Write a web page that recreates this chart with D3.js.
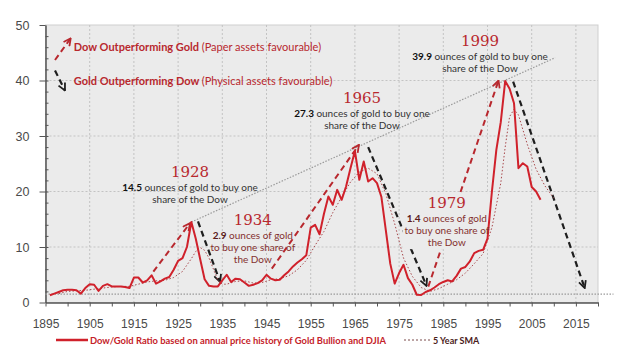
<!DOCTYPE html>
<html>
<head>
<meta charset="utf-8">
<script src="https://cdn.jsdelivr.net/npm/d3@7"></script>
<style>
  body { margin: 0; background: #fff; }
  svg { display: block; font-family: "Liberation Sans", Arial, sans-serif; }
</style>
</head>
<body>
<svg></svg>
<script>
// annual Dow / Gold ratio
var ratioYears = [1896, 1897, 1898, 1899, 1900, 1901, 1902, 1903, 1904, 1905,
  1906, 1907, 1908, 1909, 1910, 1911, 1912, 1913, 1914, 1915,
  1916, 1917, 1918, 1919, 1920, 1921, 1922, 1923, 1924, 1925,
  1926, 1927, 1928, 1929, 1930, 1931, 1932, 1933, 1934, 1935,
  1936, 1937, 1938, 1939, 1940, 1941, 1942, 1943, 1944, 1945,
  1946, 1947, 1948, 1949, 1950, 1951, 1952, 1953, 1954, 1955,
  1956, 1957, 1958, 1959, 1960, 1961, 1962, 1963, 1964, 1965,
  1966, 1967, 1968, 1969, 1970, 1971, 1972, 1973, 1974, 1975,
  1976, 1977, 1978, 1979, 1980, 1981, 1982, 1983, 1984, 1985,
  1986, 1987, 1988, 1989, 1990, 1991, 1992, 1993, 1994, 1995,
  1996, 1997, 1998, 1999, 2000, 2001, 2002, 2003, 2004, 2005,
  2006, 2007];
var ratioValues = [1.3, 1.6, 1.9, 2.2, 2.3, 2.3, 2.2, 1.6, 2.6, 3.3,
  3.2, 2.1, 3.0, 3.3, 2.9, 2.9, 2.9, 2.8, 2.6, 4.5,
  4.5, 3.6, 4.0, 4.9, 3.4, 3.8, 4.3, 4.6, 5.9, 7.5,
  8.0, 10.0, 14.5, 11.5, 7.8, 4.2, 3.0, 2.9, 2.9, 4.0,
  5.0, 3.7, 4.3, 4.2, 3.6, 3.0, 3.2, 3.5, 4.0, 5.0,
  4.3, 4.0, 4.1, 4.9, 5.6, 6.5, 7.2, 7.8, 8.5, 13.5,
  14.0, 12.3, 16.0, 19.1, 17.6, 20.3, 18.5, 20.9, 24.2, 27.3,
  22.1, 25.4, 21.8, 22.4, 21.5, 19.0, 13.0, 7.0, 3.4, 5.3,
  6.8, 4.4, 3.2, 1.4, 1.35, 1.9, 2.2, 2.7, 3.3, 3.7,
  4.0, 3.8, 4.8, 6.1, 6.4, 7.4, 8.9, 9.3, 9.5, 11.5,
  20.0, 27.5, 32.5, 39.9, 38.5, 35.9, 24.2, 25.1, 24.5, 20.8,
  20.0, 18.5];

// 5 year simple moving average
var smaYears = [1898, 1900, 1902, 1904, 1906, 1908, 1910, 1912, 1914, 1916,
  1918, 1920, 1922, 1924, 1926, 1928, 1929, 1930, 1931, 1932,
  1933, 1934, 1935, 1936, 1938, 1940, 1942, 1944, 1946, 1948,
  1950, 1952, 1954, 1956, 1958, 1960, 1962, 1964, 1966, 1968,
  1970, 1972, 1974, 1976, 1978, 1980, 1982, 1984, 1986, 1988,
  1990, 1992, 1994, 1996, 1998, 1999, 2000, 2001, 2002, 2004,
  2006, 2008, 2010];
var smaValues = [1.6, 2.0, 2.1, 2.2, 2.4, 2.6, 2.8, 2.9, 2.9, 3.3,
  3.7, 3.9, 4.0, 4.5, 5.6, 7.9, 9.2, 9.9, 9.4, 8.0,
  6.0, 4.0, 3.3, 3.3, 3.8, 3.9, 3.5, 3.6, 4.1, 4.3,
  4.8, 5.9, 7.6, 10.3, 12.8, 16.2, 19.0, 21.7, 23.5, 24.2,
  23.2, 19.6, 14.2, 8.0, 4.7, 2.7, 2.0, 2.5, 3.3, 4.1,
  5.3, 7.0, 8.8, 13.5, 21.5, 28.0, 33.5, 34.8, 33.8, 28.5,
  24.0, 21.0, 18.8];

var xTickYears = [1895, 1905, 1915, 1925, 1935, 1945, 1955, 1965, 1975, 1985, 1995, 2005, 2015];
var yTicks = [0, 10, 20, 30, 40, 50];

// peaks and troughs that are called out
var noteYears = ["1928", "1934", "1965", "1979", "1999"];
var noteAmounts = ["14.5", "2.9", "27.3", "1.4", "39.9"];
var noteLines = [
  ["ounces of gold to buy one", "share of the Dow"],
  ["ounces of gold", "to buy one share of", "the Dow"],
  ["ounces of gold to buy one", "share of the Dow"],
  ["ounces of gold", "to buy one share of", "the Dow"],
  ["ounces of gold to buy one", "share of the Dow"]
];
var noteAt = [[1927.7, 22.6], [1941.9, 13.9], [1966.6, 35.9], [1985.8, 17.0], [1993.3, 46.2]];

// dashed arrows: [from year, from ratio, to year, to ratio]
var upArrows = [[1897.15, 43.7, 1900.7, 47.6], [1919.4, 5.55, 1927.7, 14.3],
  [1946.2, 6.1, 1965.9, 28.4], [1981.6, 2.85, 1997.5, 40.0]];
var downArrows = [[1897.15, 41.8, 1899.4, 38.2], [1929.5, 14.6, 1934.5, 3.7],
  [1968, 28, 1981.2, 3.0], [2000.8, 39.8, 2017, 2.6]];
var trendLine = [[1928, 14.5], [2010.3, 44.1]];
var floorLine = [[1895, 1.5], [2023.5, 1.5]];

var width = 624;
var height = 361;
var margin = {top: 25, right: 26, bottom: 58.5, left: 45.5};
var w = width - margin.left - margin.right;
var h = height - margin.top - margin.bottom;

var red = "#d0212b";
var darkRed = "#b8282e";

var svg = d3.select("svg").attr("width", width).attr("height", height);

var x = d3.scaleLinear().domain([1895, 2020]).range([0, w]);
var y = d3.scaleLinear().domain([0, 50]).range([h, 0]);

var defs = svg.append("defs");
[["headRed", darkRed], ["headBlack", "#1e1e1e"]].forEach(function(m) {
  defs.append("marker")
      .attr("id", m[0])
      .attr("viewBox", "0 0 10 10")
      .attr("refX", 9).attr("refY", 5)
      .attr("markerWidth", 9).attr("markerHeight", 9)
      .attr("markerUnits", "userSpaceOnUse")
      .attr("orient", "auto")
    .append("path")
      .attr("d", "M1,1 L9,5 L1,9")
      .attr("fill", "none")
      .attr("stroke", m[1])
      .attr("stroke-width", 2);
});

var g = svg.append("g").attr("transform", "translate(" + margin.left + "," + margin.top + ")");

g.append("rect")
    .attr("width", w).attr("height", h)
    .attr("fill", "#ebebeb")
    .attr("stroke", "#cfcfcf");

// grid
g.selectAll(".vgrid").data(xTickYears.slice(1)).enter().append("line")
    .attr("x1", d => x(d)).attr("x2", d => x(d))
    .attr("y1", 0).attr("y2", h)
    .attr("stroke", "#c3c3c3").attr("stroke-dasharray", "2,2");
g.selectAll(".hgrid").data(yTicks.slice(1, 5)).enter().append("line")
    .attr("x1", 0).attr("x2", w)
    .attr("y1", d => y(d)).attr("y2", d => y(d))
    .attr("stroke", "#c3c3c3").attr("stroke-dasharray", "2,2");

// axes
var xAxis = d3.axisBottom(x).tickValues(xTickYears).tickFormat(d3.format("d"))
    .tickSize(4).tickPadding(13).tickSizeOuter(0);
var xMinor = d3.axisBottom(x).tickValues(d3.range(1900, 2021, 10)).tickFormat("")
    .tickSize(4).tickSizeOuter(0);
var yAxis = d3.axisLeft(y).tickValues(yTicks).tickSize(6).tickPadding(10).tickSizeOuter(0);
var yMinor = d3.axisRight(y).tickValues(d3.range(2, 50, 2)).tickFormat("")
    .tickSize(3).tickSizeOuter(0);

var gx = g.append("g").attr("transform", "translate(0," + h + ")").call(xAxis);
g.append("g").attr("transform", "translate(0," + h + ")").call(xMinor);
var gy = g.append("g").call(yAxis);
g.append("g").call(yMinor);

g.selectAll(".domain").attr("stroke", "#555");
g.selectAll(".tick line").attr("stroke", "#555");
gx.selectAll("text").attr("fill", "#4a4a4a").style("font-size", "12px");
gy.selectAll("text").attr("fill", "#4a4a4a").style("font-size", "12.5px");

var seg = d3.line().x(d => x(d[0])).y(d => y(d[1]));

// reference lines
g.append("path").attr("d", seg(floorLine))
    .attr("fill", "none").attr("stroke", "#9a9a9a").attr("stroke-width", 1.2)
    .attr("stroke-dasharray", "1.5,1.5");
g.append("path").attr("d", seg(trendLine))
    .attr("fill", "none").attr("stroke", "#9a9a9a").attr("stroke-width", 1.2)
    .attr("stroke-dasharray", "1.5,1.5");

// layers: arrows, then text masks, then series, then note text
var arrowLayer = g.append("g");
var maskLayer = g.append("g");
var seriesLayer = g.append("g");
var noteLayer = g.append("g");

upArrows.forEach(function(a) {
  arrowLayer.append("path").attr("d", seg([[a[0], a[1]], [a[2], a[3]]]))
      .attr("fill", "none").attr("stroke", darkRed).attr("stroke-width", 2)
      .attr("stroke-dasharray", "6,4").attr("marker-end", "url(#headRed)");
});
downArrows.forEach(function(a) {
  arrowLayer.append("path").attr("d", seg([[a[0], a[1]], [a[2], a[3]]]))
      .attr("fill", "none").attr("stroke", "#1e1e1e").attr("stroke-width", 2.2)
      .attr("stroke-dasharray", "6,4").attr("marker-end", "url(#headBlack)");
});

var line = d3.line().x(d => x(d[0])).y(d => y(d[1]));
seriesLayer.append("path")
    .attr("d", line(d3.zip(smaYears, smaValues)))
    .attr("fill", "none").attr("stroke", "#a8484c").attr("stroke-width", 1)
    .attr("stroke-dasharray", "1.5,2");
seriesLayer.append("path")
    .attr("d", line(d3.zip(ratioYears, ratioValues)))
    .attr("fill", "none").attr("stroke", red).attr("stroke-width", 2)
    .attr("stroke-linejoin", "round");

// notes
noteYears.forEach(function(yr, i) {
  var maroon = (yr == "1934" || yr == "1979");
  var cx = x(noteAt[i][0]), cy = y(noteAt[i][1]);
  var note = noteLayer.append("g");
  note.append("text")
      .attr("x", cx).attr("y", cy)
      .attr("text-anchor", "middle")
      .attr("fill", darkRed)
      .style("font-family", "'DejaVu Serif', 'Liberation Serif', serif")
      .style("font-size", "15px")
      .text(yr);
  noteLines[i].forEach(function(t, j) {
    var txt = note.append("text")
        .attr("x", cx).attr("y", cy + 14 + j * 12)
        .attr("text-anchor", "middle")
        .attr("fill", maroon ? "#84302f" : "#333")
        .style("font-family", "Lato, sans-serif")
        .style("font-size", "10px");
    if (j == 0) {
      txt.append("tspan").attr("font-weight", "bold")
          .attr("fill", maroon ? "#5a1a1a" : "#111").text(noteAmounts[i] + " ");
    }
    txt.append("tspan").text(t);
  });
  if (yr == "1979") {
    var b = note.node().getBBox();
    maskLayer.append("rect").attr("fill", "#ebebeb")
        .attr("x", b.x - 2).attr("y", b.y - 1)
        .attr("width", b.width + 4).attr("height", b.height + 2);
  }
});

// legend inside the plot
var legendRows = [["Dow Outperforming Gold", "(Paper assets favourable)", 45.3],
                  ["Gold Outperforming Dow", "(Physical assets favourable)", 39.2]];
legendRows.forEach(function(r) {
  var t = g.append("text")
      .attr("x", x(1901.4)).attr("y", y(r[2]))
      .attr("fill", "#b8282e")
      .style("font-family", "Lato, sans-serif")
      .style("font-size", "11px");
  t.append("tspan").attr("font-weight", "bold").text(r[0] + " ");
  t.append("tspan").text(r[1]);
});

// legend below the chart
var lg = svg.append("g").attr("transform", "translate(0,340)");
lg.append("line").attr("x1", 56).attr("x2", 88)
    .attr("stroke", red).attr("stroke-width", 2.5);
lg.append("text").attr("x", 90).attr("y", 3.5)
    .attr("fill", "#c42229").attr("font-weight", "bold")
    .style("font-family", "Lato, sans-serif").style("font-size", "9px")
    .attr("textLength", 296).attr("lengthAdjust", "spacingAndGlyphs")
    .text("Dow/Gold Ratio based on annual price history of Gold Bullion and DJIA");
lg.append("line").attr("x1", 404).attr("x2", 430)
    .attr("stroke", "#7a4a4a").attr("stroke-width", 1)
    .attr("stroke-dasharray", "2,2");
lg.append("text").attr("x", 433).attr("y", 3.5)
    .attr("fill", "#4a1c1c").attr("font-weight", "bold")
    .style("font-family", "Lato, sans-serif").style("font-size", "9px")
    .text("5 Year SMA");
</script>
</body>
</html>
